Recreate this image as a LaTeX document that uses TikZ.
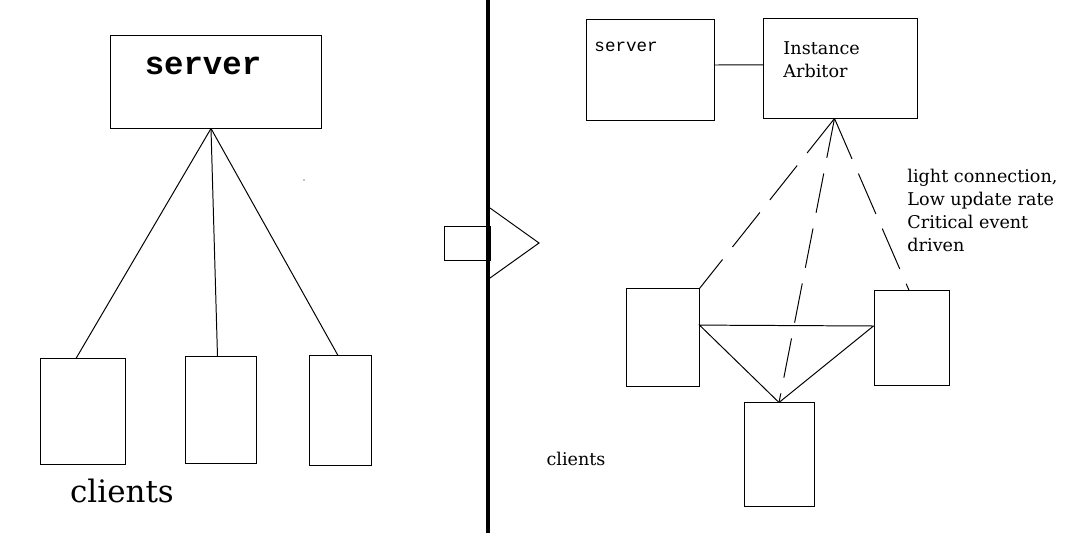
\documentclass[tikz,border=0pt]{standalone}
\usepackage{fontspec}
\setmainfont{DejaVu Serif}
\setmonofont{Liberation Mono}

\begin{document}
\begin{tikzpicture}[x=0.025cm,y=-0.025cm,line width=0.7pt]
    \tikzstyle{every node}+=[inner sep=0pt]
    \tikzstyle{box}=[draw=black,rectangle]
    \tikzstyle{longdash}=[dash pattern=on 1.1cm off 0.4cm]
    \useasboundingbox (0,0) rectangle (1087,533);
    % left: one server, all clients on it
    \node [box,minimum width=5.25cm,minimum height=2.3cm] (srvL) at (216,82) {};
    \node (srvLtxt) at (203,66) {\ttfamily\bfseries\fontsize{23}{25}\selectfont server};
    \node [box,minimum width=2.1cm,minimum height=2.625cm] (clL1) at (83,411.5) {};
    \node [box,minimum width=1.775cm,minimum height=2.65cm] (clL2) at (220.5,410) {};
    \node [box,minimum width=1.55cm,minimum height=2.725cm] (clL3) at (340,410.5) {};
    \node (clLtxt) at (122,491) {\fontsize{22}{24}\selectfont clients};
    \coordinate (hub) at ([xshift=-0.125cm]srvL.south);
    \draw [black] (hub) -- ([xshift=-0.175cm]clL1.north);
    \draw [black] (hub) -- ([xshift=-0.075cm]clL2.north);
    \draw [black] (hub) -- ([xshift=-0.05cm]clL3.north);
    \fill [black] (304,180) circle (0.7);
    % divider and arrow
    \draw [black] (444,226) rectangle (490,260);
    \draw [black] (490,208) -- (539,243) -- (490,278);
    \draw [black,line width=3.5pt] (488,0) -- (488,533);
    % right: server + instance arbitor
    \node [box,minimum width=3.175cm,minimum height=2.5cm] (srvR) at (650.5,70) {};
    \node [anchor=west] (srvRtxt) at (594,47) {\ttfamily\fontsize{12.5}{14}\selectfont server};
    \node [box,minimum width=3.825cm,minimum height=2.475cm] (arb) at (840.5,68.5) {};
    \node [anchor=west,align=left,font=\fontsize{12.5}{16.3}\selectfont] (arbtxt) at (783,60) {Instance\\Arbitor};
    \node [box,minimum width=1.825cm,minimum height=2.425cm] (clA) at (662.5,337.5) {};
    \node [box,minimum width=1.875cm,minimum height=2.35cm] (clB) at (911.5,338) {};
    \node [box,minimum width=1.75cm,minimum height=2.575cm] (clC) at (779,454.5) {};
    \node (clRtxt) at (576,459) {\fontsize{12.5}{14}\selectfont clients};
    \node [anchor=north west,align=left,font=\fontsize{12.5}{16.3}\selectfont] (note) at (907,169)
        {light connection,\\Low update rate\\Critical event\\driven};
    \coordinate (tA) at ([yshift=0.31cm]clA.east);
    \coordinate (tB) at ([yshift=0.3cm]clB.west);
    \coordinate (arbB) at ([xshift=-0.15cm]arb.south);
    \draw [black] ([yshift=0.125cm]srvR.east) -- ([yshift=0.09cm]arb.west);
    \draw [black,longdash] (arbB) -- (clA.north east);
    \draw [black,dash pattern=on 1cm off 0.4cm] (arbB) -- (clC.north);
    \draw [black,longdash] (arbB) -- ([xshift=-0.06cm]clB.north);
    \draw [black] (tA) -- (tB) -- (clC.north) -- cycle;
\end{tikzpicture}
\end{document}
